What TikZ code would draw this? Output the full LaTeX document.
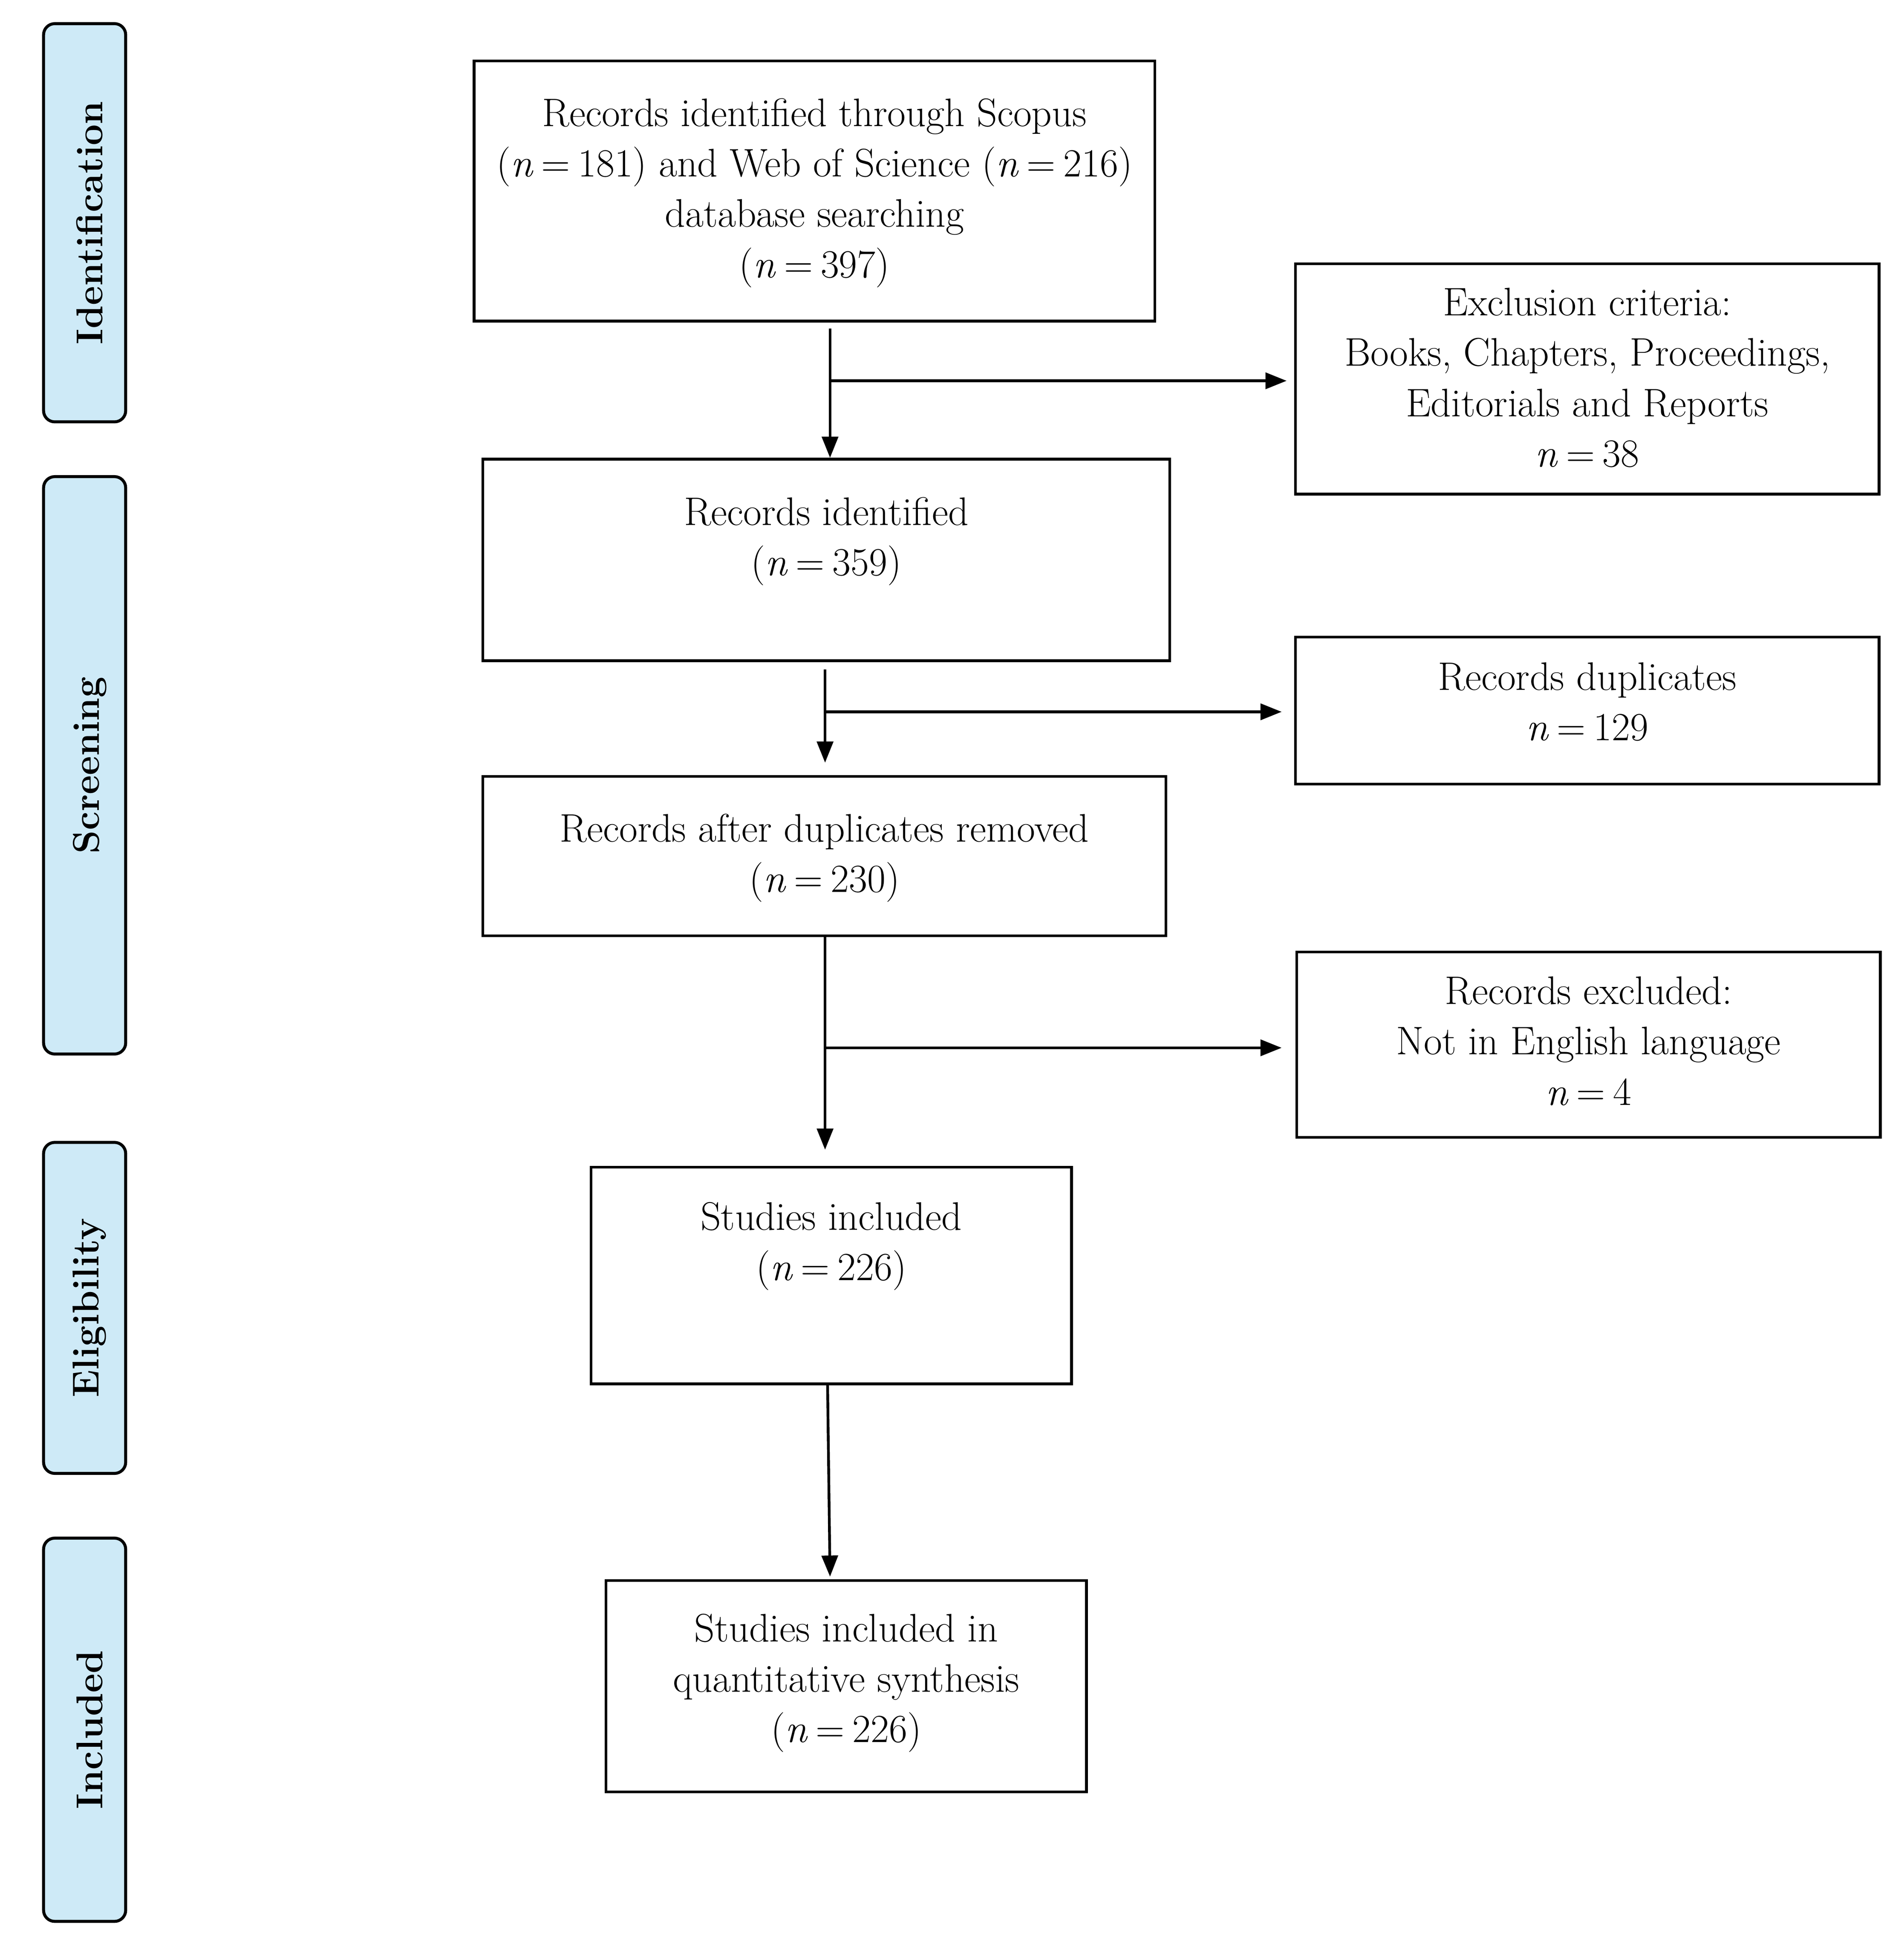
\documentclass[tikz,border=0pt]{standalone}
\usetikzlibrary{arrows.meta,calc}
\definecolor{phaseblue}{RGB}{206,234,247}
\newcommand{\nn}[1]{\textit{n}\hspace{0.2em}=\hspace{0.2em}#1}
\begin{document}
\begin{tikzpicture}[x=1pt,y=-1pt,
  box/.style={draw, line width=2.2pt, rectangle, inner sep=0pt},
  phase/.style={draw, line width=2.4pt, rounded corners=9pt, fill=phaseblue, inner sep=0pt},
  phaselbl/.style={rotate=90, inner sep=0pt, font=\fontsize{30}{36}\selectfont\bfseries},
  lbl/.style={font=\fontsize{32}{40.5}\selectfont, align=center, inner sep=0pt},
  arr/.style={-{Triangle[length=17pt,width=13pt]}, line width=2.2pt}]
\useasboundingbox (0,0) rectangle (1530,1567);

% phase labels
\node[phase, minimum height=320pt, minimum width=66pt] (p1) at (68,179) {};
\node[phaselbl] (pl1) at (72,179) {Identification};
\node[phase, minimum height=464pt, minimum width=66pt] (p2) at (68,615) {};
\node[phaselbl] (pl2) at (72,615) {Screening};
\node[phase, minimum height=266pt, minimum width=66pt] (p3) at (68,1051) {};
\node[phaselbl] (pl3) at (72,1051) {Eligibility};
\node[phase, minimum height=308pt, minimum width=66pt] (p4) at (68,1390) {};
\node[phaselbl] (pl4) at (72,1390) {Included};

% main boxes
\node[box, minimum width=547pt, minimum height=209pt] (b1) at (654.5,153.5) {};
\node[lbl] (t1) at (654.5,155) {Records identified through Scopus\\(\nn{181}) and Web of Science (\nn{216})\\database searching\\(\nn{397})};

\node[box, minimum width=469pt, minimum height=185pt] (e1) at (1275.5,304.5) {};
\node[lbl] (te1) at (1275.5,303.5) {Exclusion criteria:\\Books, Chapters, Proceedings,\\Editorials and Reports\\\nn{38}};

\node[box, minimum width=552pt, minimum height=162pt] (b2) at (664,450) {};
\node[lbl] (t2) at (664,435) {Records identified\\(\nn{359})};

\node[box, minimum width=469pt, minimum height=118pt] (e2) at (1275.5,571) {};
\node[lbl] (te2) at (1275.5,564) {Records duplicates\\\nn{129}};

\node[box, minimum width=549pt, minimum height=128pt] (b3) at (662.5,688) {};
\node[lbl] (t3) at (662.5,689.5) {Records after duplicates removed\\(\nn{230})};

\node[box, minimum width=469pt, minimum height=149pt] (e3) at (1276.5,839.5) {};
\node[lbl] (te3) at (1276.5,836.5) {Records excluded:\\Not in English language\\\nn{4}};

\node[box, minimum width=386pt, minimum height=174pt] (b4) at (668,1025) {};
\node[lbl] (t4) at (668,1001.5) {Studies included\\(\nn{226})};

\node[box, minimum width=386pt, minimum height=170pt] (b5) at (680,1355) {};
\node[lbl] (t5) at (680,1352.5) {Studies included in\\quantitative synthesis\\(\nn{226})};

% connectors
\coordinate (s1) at (667,264);
\coordinate (j1) at (667,306);
\draw[arr] (s1) -- (s1 |- b2.north);
\draw[arr] (j1) -- ([xshift=-6pt]e1.west |- j1);

\coordinate (s2) at (663,538);
\coordinate (j2) at (663,572);
\draw[arr] (s2) -- ([yshift=10pt]s2 |- b3.north);
\draw[arr] (j2) -- ([xshift=-10pt]e2.west |- j2);

\coordinate (s3) at (663,752);
\coordinate (j3) at (663,842);
\draw[arr] (s3) -- ([yshift=13pt]s3 |- b4.north);
\draw[arr] (j3) -- ([xshift=-11pt]e3.west |- j3);

\coordinate (s4) at (665,1112);
\coordinate (d4) at (667,1267);
\draw[arr] (s4) -- (d4);
\end{tikzpicture}
\end{document}
